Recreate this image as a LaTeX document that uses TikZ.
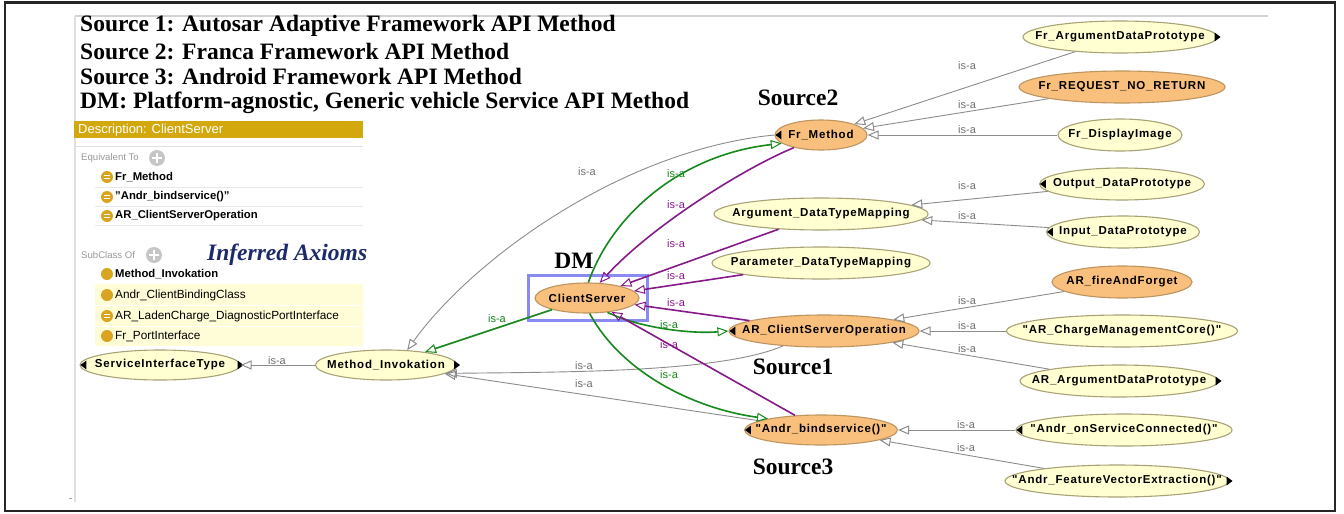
\documentclass[tikz,border=0pt]{standalone}
\usepackage{fontspec}
\setmainfont{Liberation Serif}
\setsansfont{Liberation Sans}
\newfontfamily\nodefont[LetterSpace=7]{Liberation Sans}
\usetikzlibrary{arrows.meta,shapes.geometric,calc}
\definecolor{ylfill}{HTML}{FFFFD2}
\definecolor{ylborder}{HTML}{A8A276}
\definecolor{orfill}{HTML}{F9BF7C}
\definecolor{orborder}{HTML}{BD9560}
\definecolor{isagray}{HTML}{8C8C8C}
\definecolor{labgray}{HTML}{707070}
\definecolor{isagreen}{HTML}{16881C}
\definecolor{isapurple}{HTML}{861A8A}
\definecolor{dmblue}{HTML}{8A8AF5}
\definecolor{barcol}{HTML}{D3A80C}
\definecolor{rowyel}{HTML}{FFFCD8}
\definecolor{iconcol}{HTML}{D9A520}
\definecolor{navy}{HTML}{1C2A6B}
\tikzset{
  ell/.style={ellipse, draw=ylborder, fill=ylfill, line width=1.1pt, minimum height=32, inner sep=0pt},
  orell/.style={ell, draw=orborder, fill=orfill},
  ntxt/.style={font=\nodefont\bfseries\fontsize{11.5}{13}\selectfont, text=black, inner sep=0pt},
  tipopen/.style={-{Triangle[open, length=11pt, width=9pt, line width=1pt]}},
  isa/.style={draw=isagray, line width=0.9pt, tipopen},
  gre/.style={draw=isagreen, line width=1.6pt, tipopen},
  pur/.style={draw=isapurple, line width=1.6pt, tipopen},
  lab/.style={font=\sffamily\fontsize{11}{12}\selectfont, text=labgray, inner sep=0pt},
  glab/.style={lab, text=isagreen},
  plab/.style={lab, text=isapurple},
  serifb/.style={font=\bfseries\fontsize{23.5}{26}\selectfont, inner sep=0pt},
  ptxt/.style={font=\sffamily\fontsize{11.8}{13}\selectfont, anchor=west, inner sep=0pt},
  ptxtb/.style={ptxt, font=\sffamily\bfseries\fontsize{11.3}{13}\selectfont},
}
\newcommand\enode[6]{%
  \node[#5, minimum width=#4] (#1) at (#2,#3) {};
  \node[ntxt] (#1-t) at (#1.center) {#6};}
\newcommand\ltri[1]{\fill (#1.west) ++(1,0) -- ++(6,-4.5) -- ++(0,9) -- cycle;}
\newcommand\rtri[1]{\fill (#1.east) ++(3,0) -- ++(-6,-4.5) -- ++(0,9) -- cycle;}
\newcommand\eqicon[2]{\fill[iconcol] (#1,#2) circle (6);
  \draw[white, line width=0.9pt] (#1-3,#2-1.5) -- (#1+3,#2-1.5) (#1-3,#2+1.5) -- (#1+3,#2+1.5);}
\newcommand\plusicon[2]{\fill[gray!45] (#1,#2) circle (8);
  \draw[white, line width=1.8pt] (#1-5,#2) -- (#1+5,#2) (#1,#2-5) -- (#1,#2+5);}
\begin{document}
\begin{tikzpicture}[x=1pt,y=-1pt]
\useasboundingbox (0,0) rectangle (1344,514);
\fill[white] (0,0) rectangle (1344,514);
\draw[black!85, line width=2.2pt] (5,2.5) rectangle (1335,511);
% frame of the screenshot
\draw[gray!35, line width=2pt] (75,16) -- (1268,16);
\draw[gray!25, line width=2.5pt] (75,16) -- (75,502);
\draw[gray!70, line width=1pt] (69,498) -- (72,498);
% title
\node[serifb, anchor=west] (t1) at (80,26) {Source 1: Autosar Adaptive Framework API Method};
\node[serifb, anchor=west] (t2) at (80,52) {Source 2: Franca Framework API Method};
\node[serifb, anchor=west] (t3) at (80,77) {Source 3: Android Framework API Method};
\node[serifb, anchor=west] (t4) at (80,103) {DM: Platform-agnostic, Generic vehicle Service API Method};
% description panel
\fill[barcol] (74,121) rectangle (363,138);
\node[ptxt, text=white, font=\sffamily\fontsize{13}{14}\selectfont] (desc) at (78,130) {Description: ClientServer};
\draw[gray!25] (76,146) -- (363,146);
\node[ptxt, text=gray!80, font=\sffamily\fontsize{9.6}{11}\selectfont] (eqto) at (81,158) {Equivalent To};
\plusicon{157}{158}
\eqicon{107}{177}
\node[ptxtb] (e1) at (115,177) {Fr\_Method};
\draw[gray!18] (95,187) -- (363,187);
\eqicon{107}{197}
\node[ptxtb] (e2) at (115,197) {"Andr\_bindservice()"};
\draw[gray!18] (95,206) -- (363,206);
\eqicon{107}{216}
\node[ptxtb] (e3) at (115,216) {AR\_ClientServerOperation};
\draw[gray!18] (95,225) -- (363,225);
\node[ptxt, text=gray!80, font=\sffamily\fontsize{9.6}{11}\selectfont] (subof) at (81,255) {SubClass Of};
\plusicon{154}{255}
\node[anchor=west, inner sep=0pt, text=navy, font=\bfseries\itshape\fontsize{23.5}{26}\selectfont] (inf) at (207,255) {Inferred Axioms};
\fill[iconcol] (107,274) circle (6);
\node[ptxtb] (s1) at (115,274) {Method\_Invokation};
\fill[rowyel] (95,284) rectangle (363,346);
\draw[white, line width=1pt] (95,305) -- (363,305) (95,326) -- (363,326);
\fill[iconcol] (107,295) circle (6);
\node[ptxt] (s2) at (115,295) {Andr\_ClientBindingClass};
\eqicon{107}{316}
\node[ptxt] (s3) at (115,316) {AR\_LadenCharge\_DiagnosticPortInterface};
\fill[iconcol] (107,336) circle (6);
\node[ptxt] (s4) at (115,336) {Fr\_PortInterface};
% ellipse nodes
\enode{fad}{1120}{37}{194}{ell}{Fr\_ArgumentDataPrototype}
\enode{frnr}{1122}{87}{206}{orell}{Fr\_REQUEST\_NO\_RETURN}
\enode{fdi}{1120}{135}{124}{ell}{Fr\_DisplayImage}
\enode{odp}{1122}{184}{165}{ell}{Output\_DataPrototype}
\enode{idp}{1123}{232}{153}{ell}{Input\_DataPrototype}
\enode{frm}{821}{135}{92}{orell, minimum height=30}{Fr\_Method}
\enode{adm}{821}{214}{214}{ell}{Argument\_DataTypeMapping}
\enode{pdm}{821}{263}{218}{ell}{Parameter\_DataTypeMapping}
\enode{cs}{587}{298}{104}{orell, minimum height=30}{ClientServer}
\enode{aff}{1122}{282}{140}{orell}{AR\_fireAndForget}
\enode{acmc}{1122}{331}{231}{ell}{"AR\_ChargeManagementCore()"}
\enode{aadp}{1119}{381}{198}{ell}{AR\_ArgumentDataPrototype}
\enode{arcso}{824}{331}{190}{orell}{AR\_ClientServerOperation}
\enode{sit}{160}{365}{160}{ell, minimum height=30}{ServiceInterfaceType}
\enode{mi}{386}{365}{141}{ell, minimum height=30}{Method\_Invokation}
\enode{abs}{821}{430}{153}{orell, minimum height=30}{"Andr\_bindservice()"}
\enode{aosc}{1124}{430}{216}{ell}{"Andr\_onServiceConnected()"}
\enode{afve}{1117}{481}{224}{ell}{"Andr\_FeatureVectorExtraction()"}
\rtri{fad}
\ltri{odp}
\ltri{idp}
\ltri{frm}
\ltri{arcso}
\rtri{aadp}
\ltri{sit}
\rtri{sit}
\rtri{mi}
\ltri{abs}
\ltri{aosc}
\rtri{afve}
% DM highlight box and source labels
\draw[dmblue, line width=3pt] (528,275) rectangle (647,320);
\node[serifb] (dm) at (574,261) {DM};
\node[serifb] (src2) at (798,98) {Source2};
\node[serifb] (src1) at (793,367) {Source1};
\node[serifb] (src3) at (793,467) {Source3};
% gray is-a edges
\draw[isa] (fad) -- (frm);
\draw[isa] (frnr) -- (frm);
\draw[isa] (fdi) -- (frm);
\draw[isa] (odp) -- (adm);
\draw[isa] (idp) -- (adm);
\draw[isa] (aff) -- (arcso);
\draw[isa] (acmc) -- (arcso);
\draw[isa] (aadp) -- (arcso);
\draw[isa] (aosc) -- (abs);
\draw[isa] (afve) -- (abs);
\draw[isa] (mi) -- (sit);
\draw[isa] (frm.west) .. controls (620,150) and (470,262) .. (mi.35);
\draw[isa] (arcso.200) .. controls (720,373) and (560,372) .. (mi.-8);
\draw[isa] (abs) -- (mi);
% inferred (green) edges
\draw[gre] (cs.85) .. controls (612,215) and (680,155) .. (frm.192);
\draw[gre] (cs) -- (mi);
\draw[gre] (cs.-35) .. controls (640,328) and (690,334) .. (arcso.west);
\draw[gre] (cs.-80) .. controls (620,370) and (690,408) .. (abs.168);
% purple edges
\draw[pur] (frm.205) .. controls (740,170) and (650,228) .. (cs.50);
\draw[pur] (adm) -- (cs);
\draw[pur] (pdm) -- (cs);
\draw[pur] (arcso) -- (cs);
\draw[pur] (abs) -- (cs);
% labels
\node[lab] (l1) at (967,66) {is-a};
\node[lab] (l2) at (967,105) {is-a};
\node[lab] (l3) at (967,130) {is-a};
\node[lab] (l4) at (967,186) {is-a};
\node[lab] (l5) at (967,216) {is-a};
\node[lab] (l6) at (967,301) {is-a};
\node[lab] (l7) at (967,326) {is-a};
\node[lab] (l8) at (967,349) {is-a};
\node[lab] (l9) at (966,425) {is-a};
\node[lab] (l10) at (966,448) {is-a};
\node[lab] (l11) at (277,361) {is-a};
\node[lab] (l12) at (587,172) {is-a};
\node[lab] (l13) at (584,366) {is-a};
\node[lab] (l14) at (584,384) {is-a};
\node[glab] (g1) at (676,174) {is-a};
\node[glab] (g2) at (497,319) {is-a};
\node[glab] (g3) at (669,325) {is-a};
\node[glab] (g4) at (669,375) {is-a};
\node[plab] (p1) at (676,205) {is-a};
\node[plab] (p2) at (676,244) {is-a};
\node[plab] (p3) at (676,276) {is-a};
\node[plab] (p4) at (676,303) {is-a};
\node[plab] (p5) at (669,345) {is-a};
\end{tikzpicture}
\end{document}
